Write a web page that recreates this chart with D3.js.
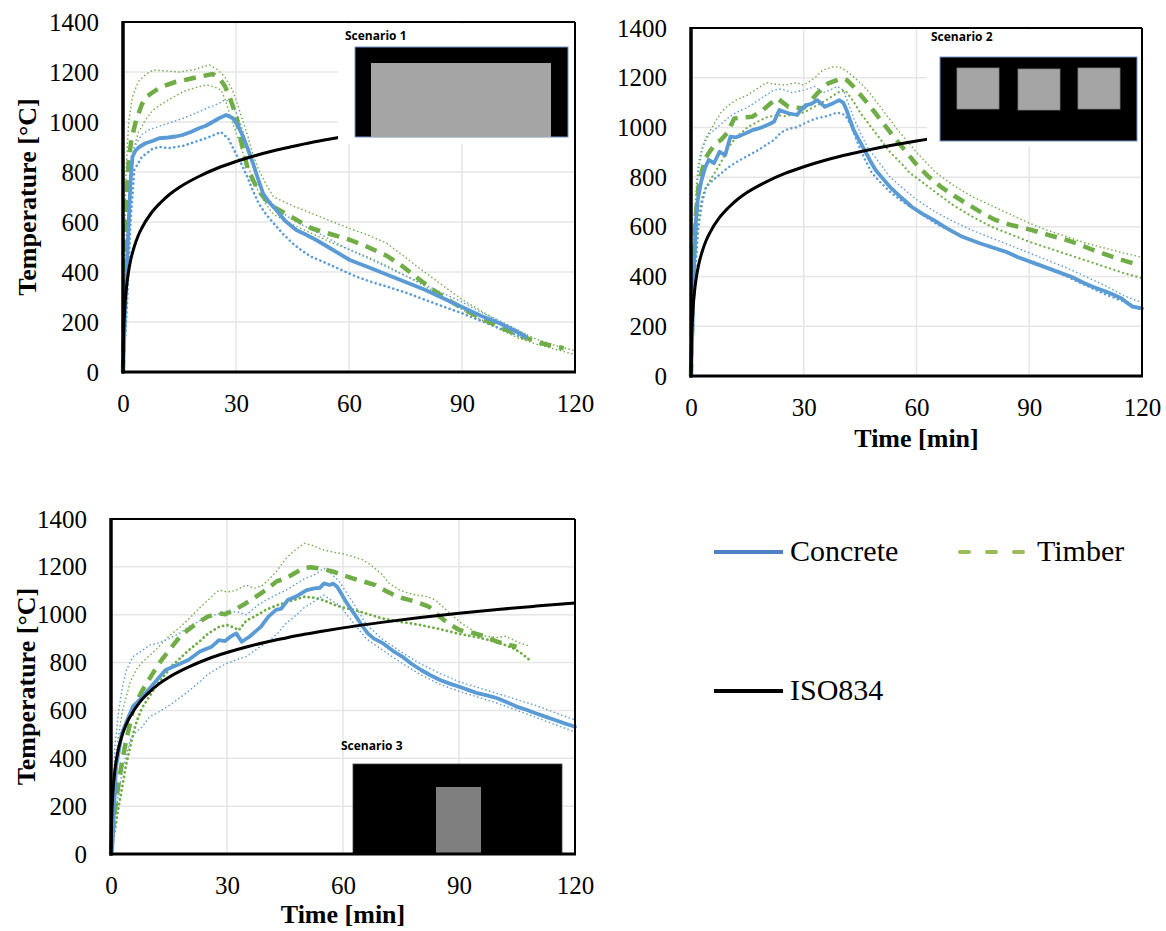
<!DOCTYPE html>
<html lang="en">
<head>
    <meta charset="UTF-8">
    <title>Fire scenarios - temperature vs time</title>
    <script src="https://d3js.org/d3.v7.min.js"></script>
    <style>
        body { margin: 0; background: #fff; }
        svg text { font-family: "Liberation Serif", "Times New Roman", serif; fill: #000; }
    </style>
</head>
<body>
    <div id="chart"></div>
    <script>
        // ticks
        var yTicks = [0, 200, 400, 600, 800, 1000, 1200, 1400];
        var xTicks = [0, 30, 60, 90, 120];

        // ISO834 standard curve [min, degC]
        var iso834 = [[0,20],[0.1,108],[0.25,185],[0.5,261],[1,349],[1.5,404],[2,445],[3,502],[4,544],[5,576],
            [7.5,636],[10,678],[12.5,712],[15,739],[20,781],[25,815],[30,842],[35,865],[40,885],[45,902],
            [50,918],[55,932],[60,945],[70,968],[80,988],[90,1006],[100,1022],[110,1036],[120,1049]];

        // Scenario 1
        var s1ConcMean = [[0,0],[0.7,300],[1.4,560],[2,760],[2.5,860],[3.3,885],[4.3,900],[6,915],[8,925],[9.6,935],
            [12,938],[14,942],[15.8,948],[18,960],[20.2,975],[22,985],[23.9,1001],[25.5,1015],[27.4,1028],[29.2,1015],
            [30.5,985],[31.9,941],[33.2,890],[34.5,835],[35.8,775],[37.2,714],[39,675],[40.7,648],[43,605],[46,568],
            [48.5,550],[51.3,528],[55,495],[60.2,448],[65,420],[70,390],[75,360],[80,330],[85,295],[90,260],
            [95,225],[100,195],[104,165],[107,140]];
        var s1ConcHigh = [[0,0],[0.6,300],[1.2,600],[2,820],[3,900],[5,950],[7,970],[10,985],[13,1000],[16,1015],
            [20,1040],[23,1060],[25.5,1075],[27,1088],[28.5,1080],[30,1040],[31.5,980],[33,900],[34.5,820],[36,750],
            [38,700],[40,670],[43,630],[46,600],[50,570],[55,530],[60,490],[65,455],[70,420],[75,385],[80,350],
            [85,315],[90,280],[95,240],[100,205],[104,175],[107,150]];
        var s1ConcLow = [[0,0],[1,250],[2,600],[3,808],[5,860],[8,895],[10,900],[12,895],[14,900],[16,905],[18,915],
            [20,925],[22,935],[24,947],[26,960],[28,932],[30,873],[31.5,830],[33,781],[34.5,725],[36,675],[38,630],
            [40,595],[42.5,552],[45,515],[47.5,485],[50,461],[54,435],[58,408],[62,381],[66,360],[70,342],[75,318],
            [80,290],[85,262],[90,235],[95,205],[100,175],[104,150],[107,130]];
        var s1TimbMean = [[0,0],[0.4,350],[0.9,688],[1.5,840],[2.2,928],[3.5,1008],[5,1070],[6.2,1101],[8.8,1128],
            [11,1145],[14.1,1161],[17,1170],[20.2,1181],[23.8,1192],[25.6,1176],[27,1145],[28.3,1101],[30.1,1021],
            [31,950],[31.9,888],[33,820],[34.5,768],[36,725],[38,688],[40,660],[45,618],[50,575],[55,552],[60,530],
            [65,500],[70,465],[74,425],[78,378],[82,332],[86,292],[90,255],[95,215],[100,180],[105,148],[110,120],
            [113,108],[117,95]];
        var s1TimbHigh = [[0,0],[0.3,400],[0.8,800],[1.5,1000],[2.5,1100],[4,1160],[6,1190],[8,1208],[11,1205],
            [15,1200],[19,1210],[21,1220],[23,1228],[25,1210],[27,1181],[29,1130],[30,1088],[31.5,1020],[33,950],
            [34.5,870],[36,810],[38,750],[40,700],[45,665],[50,635],[55,605],[60,575],[65,548],[70,515],[75,458],
            [80,400],[85,345],[90,290],[95,245],[100,200],[105,165],[110,130],[115,105],[120,85]];
        var s1TimbLow = [[0,0],[0.5,300],[1,550],[2,800],[3,900],[4,955],[6,1010],[8,1048],[10,1070],[12,1088],
            [14,1105],[17,1128],[20,1140],[22,1148],[24,1142],[26,1128],[27,1095],[28,1048],[29,1000],[30,960],
            [31.5,890],[33,830],[34.5,775],[36,720],[38,670],[40,630],[45,590],[50,555],[55,520],[60,490],[65,460],
            [70,425],[75,385],[80,345],[85,298],[90,250],[95,210],[100,170],[105,135],[110,110],[115,90],[120,70]];

        // Scenario 2
        var s2ConcMean = [[0,0],[0.3,150],[0.8,450],[1.3,620],[1.8,708],[2.8,788],[3.8,840],[4.7,869],[6.1,856],
            [7.6,902],[9.1,889],[10.5,963],[12,960],[13.4,969],[15,980],[16.3,989],[17.8,995],[19.2,1003],[20.6,1012],
            [22.1,1023],[23.5,1070],[25.9,1057],[28.2,1050],[29.5,1075],[30.7,1090],[32,1095],[33.6,1110],[35.6,1083],
            [37.5,1095],[39.4,1110],[40.5,1100],[41.4,1070],[42.3,1030],[43.3,989],[44.7,950],[46.2,909],[47.6,868],
            [49.1,829],[51,795],[52.9,761],[55.8,720],[58.7,681],[61.6,652],[64.5,628],[68,595],[72.2,560],[77,533],
            [83.8,500],[87,478],[91.5,453],[96,428],[101.2,399],[104,378],[106.9,359],[110,342],[112,330],[114.6,312],
            [116,295],[117.5,279],[120,272]];
        var s2ConcHigh = [[0,0],[0.5,350],[1,600],[2,830],[3,910],[4,950],[5,975],[7,1000],[10,1040],[12,1060],
            [15,1080],[18,1110],[20,1130],[22,1150],[24,1155],[27,1140],[30,1150],[33,1165],[35,1140],[37,1150],
            [39,1165],[40.5,1150],[42,1090],[43.5,1030],[45,980],[47,920],[50,860],[53,800],[56,760],[60,710],
            [65,660],[70,620],[75,585],[80,555],[85,525],[90,495],[95,465],[100,435],[105,400],[110,365],[115,325],
            [120,295]];
        var s2ConcLow = [[0,0],[0.5,150],[1,400],[2,600],[3,700],[4,760],[6,790],[8,815],[10,840],[12,860],[15,885],
            [18,910],[20,930],[22,949],[24,980],[26,995],[28,1000],[30,1015],[33,1035],[36,1045],[39,1060],[41,1050],
            [42.5,1010],[44,950],[46,880],[48,820],[50,785],[53,740],[56,705],[60,665],[65,615],[70,575],[75,545],
            [80,515],[85,490],[90,460],[95,432],[100,400],[105,365],[110,330],[115,300],[120,265]];
        var s2TimbMean = [[0,0],[0.3,200],[0.8,480],[1.3,650],[2,760],[3,830],[4,880],[5.3,910],[6.7,937],[8,950],
            [9.6,977],[11.5,1036],[14,1040],[16.3,1043],[19.2,1070],[21,1095],[23,1117],[25.9,1083],[29.8,1077],
            [31.5,1100],[33.6,1137],[36.5,1177],[40,1197],[41.5,1190],[43.3,1163],[46,1115],[49.1,1057],[51.5,1010],
            [53.9,963],[56.8,910],[59.7,856],[63,805],[66.4,762],[70,725],[73.2,695],[77,660],[80.9,628],[85,608],
            [90.5,588],[95,568],[100.1,547],[104,525],[107,507],[112,480],[117.5,454]];
        var s2TimbHigh = [[0,0],[0.3,300],[0.8,600],[1.5,780],[2,860],[3,920],[4,960],[6,1010],[8,1060],[10,1090],
            [12,1110],[15,1130],[18,1160],[20,1180],[22,1175],[25,1170],[28,1180],[30,1170],[33,1200],[35,1230],
            [38,1245],[40,1240],[42,1220],[45,1180],[47.5,1140],[50,1090],[52.5,1040],[55,990],[57.5,945],[60,900],
            [62.5,860],[65,820],[70,765],[75,720],[80,685],[85,650],[90,615],[95,585],[100,560],[105,535],[110,515],
            [115,495],[120,478]];
        var s2TimbLow = [[0,0],[0.5,200],[1,400],[2,650],[3,720],[4,760],[6,810],[8,860],[10,920],[12,960],[15,1000],
            [18,1025],[20,1040],[23,1050],[25,1045],[28,1055],[30,1060],[33,1085],[36,1110],[39,1140],[41,1150],
            [43,1110],[45,1060],[48,1000],[50,960],[53,900],[56,855],[58,820],[62,775],[65,740],[70,685],[75,640],
            [80,600],[85,570],[90,540],[95,515],[100,490],[105,465],[110,440],[115,415],[120,393]];

        // Scenario 3
        var s3ConcMean = [[0,0],[0.3,17],[1.3,365],[2.8,504],[4.2,560],[5.7,616],[8.2,657],[11.1,713],[14.1,769],
            [17.1,790],[20,811],[23,846],[26,866],[27.9,894],[29.5,890],[30.9,908],[32.4,922],[33.8,887],[35.8,908],
            [38.8,950],[40.7,992],[42.7,1020],[44,1025],[45.7,1061],[47.7,1075],[50.6,1103],[52.6,1110],[54,1112],
            [55.1,1131],[56.5,1124],[57.5,1130],[58.5,1117],[59.5,1090],[60.5,1061],[62,1025],[63.4,992],[64.9,955],
            [66.4,922],[68,900],[70.4,880],[72.8,850],[75.3,825],[77.7,795],[80.2,769],[82.6,747],[85.1,727],
            [87.6,712],[90.1,699],[92.5,685],[95,671],[97.5,662],[99.9,651],[102.4,634],[104.9,616],[107.4,603],
            [109.8,588],[112.3,574],[114.8,560],[117.3,546],[120,532]];
        var s3ConcHigh = [[0,0],[0.5,200],[1,450],[2,600],[3,700],[4,770],[5.7,825],[8,850],[10,873],[12,880],
            [15,900],[18,925],[20,950],[23,975],[25,990],[28,1005],[30,1015],[33,1010],[35,1000],[38,1040],[40,1060],
            [43,1085],[45,1100],[48,1130],[50,1150],[53,1170],[55,1194],[57,1170],[59,1140],[61,1090],[63,1040],
            [66,960],[70,900],[75,845],[80,795],[85,755],[90,720],[95,695],[100,670],[105,645],[110,620],[115,590],
            [120,560]];
        var s3ConcLow = [[0,0],[0.5,60],[1,150],[2,260],[3,350],[4,420],[5,476],[6.5,510],[8,530],[10,574],[12,590],
            [15,620],[18,655],[20,680],[23,720],[25,750],[28,780],[30,797],[33,815],[35,825],[38,860],[40,880],
            [43,920],[45,960],[48,1000],[50,1030],[53,1060],[55,1082],[57,1060],[59,1040],[61,1000],[63,960],[66,900],
            [70,855],[75,800],[80,750],[85,710],[90,680],[95,655],[100,630],[105,600],[110,570],[115,540],[120,510]];
        var s3TimbMean = [[0,0],[0.5,100],[1,180],[2,300],[3,400],[4,480],[5,550],[5.7,609],[7,650],[8,680],
            [9.5,720],[11,760],[13.1,811],[15,850],[17.1,894],[19,925],[21,950],[23,972],[25,992],[27.9,1006],
            [29.5,1002],[31.9,1020],[34.8,1047],[36.8,1068],[38.8,1089],[40.7,1112],[42.7,1138],[44.7,1150],
            [46.7,1166],[48.2,1180],[49.6,1194],[51.6,1198],[53.6,1194],[55.5,1188],[57.5,1180],[60,1165],[62.5,1152],
            [65.5,1138],[68.4,1124],[71,1100],[73.3,1082],[75.3,1070],[77.3,1061],[79.8,1048],[82.2,1034],[84.1,1005],
            [86.1,978],[88.1,955],[90.1,936],[92,928],[94,922],[97,908],[99.9,887],[102.4,876],[104.9,866]];
        var s3TimbHigh = [[0,0],[0.5,250],[1,380],[2,500],[3,600],[4,660],[5,720],[6.5,770],[8,800],[10,830],
            [12,860],[15,910],[18,950],[20,980],[23,1030],[25,1060],[27,1090],[28,1103],[30,1095],[32,1100],[35,1124],
            [37,1110],[39,1120],[41,1150],[43,1185],[45,1230],[46.5,1255],[48,1275],[50,1298],[52,1290],[55,1270],
            [58,1260],[60,1255],[63,1240],[65,1230],[67,1210],[70,1170],[72,1130],[75,1100],[78,1085],[80,1080],
            [82,1075],[84,1060],[86,1030],[88,1000],[91,960],[94,930],[97,910],[100,905],[102,910],[104,895],
            [106,880],[108,870]];
        var s3TimbLow = [[0,0],[0.5,50],[1,100],[2,200],[3,290],[4,380],[5,450],[6,520],[7,570],[8,610],[10,660],
            [11.5,700],[13,730],[16,790],[18,820],[20,850],[23,890],[25,920],[28,950],[30,957],[32,945],[33,935],
            [35,975],[38,1000],[40,1020],[43,1040],[45,1050],[48,1065],[50,1075],[53,1070],[55,1060],[58,1040],
            [60,1030],[63,1020],[65,1010],[68,995],[70,985],[75,970],[80,957],[85,940],[90,920],[95,905],[100,885],
            [104,860],[106,840],[108.8,804]];

        var blue = '#5b9bd5';
        var green = '#70ad47';

        var svg = d3.select('#chart')
            .append('svg')
            .attr('width', 1166)
            .attr('height', 931);

        function drawPanel(p) {
            var x = d3.scaleLinear().domain([0, 120]).range([p.left, p.right]);
            var y = d3.scaleLinear().domain([0, 1400]).range([p.bottom, p.top]);
            var g = svg.append('g');

            // gridlines
            g.selectAll('.gy').data(yTicks.slice(1)).enter().append('line')
                .attr('x1', p.left).attr('x2', p.right)
                .attr('y1', function(d) { return y(d); }).attr('y2', function(d) { return y(d); })
                .attr('stroke', '#e6e6e6').attr('stroke-width', 1.5);
            g.selectAll('.gx').data(xTicks.slice(1)).enter().append('line')
                .attr('y1', p.top).attr('y2', p.bottom)
                .attr('x1', function(d) { return x(d); }).attr('x2', function(d) { return x(d); })
                .attr('stroke', '#e6e6e6').attr('stroke-width', 1.5);

            var line = d3.line()
                .x(function(d) { return x(d[0]); })
                .y(function(d) { return y(d[1]); });

            var lines = [
                { data: p.timbHigh, color: green, width: 1.4, dash: '1.5,2.5', cap: 'butt' },
                { data: p.timbLow, color: green, width: p.timbLowW, dash: p.timbLowW > 2 ? '0.1,4.5' : '1.5,2.5', cap: p.timbLowW > 2 ? 'round' : 'butt' },
                { data: p.concHigh, color: blue, width: 1.4, dash: '1.5,2.5', cap: 'butt' },
                { data: p.concLow, color: blue, width: p.concLowW, dash: p.concLowW > 2 ? '0.1,4.5' : '1.5,2.5', cap: p.concLowW > 2 ? 'round' : 'butt' },
                { data: p.timbMean, color: green, width: 4.5, dash: '12,8', cap: 'butt' },
                { data: p.concMean, color: blue, width: 3.8, dash: null, cap: 'round' },
                { data: iso834, color: '#000', width: 3, dash: null, cap: 'butt', curve: true }
            ];
            lines.forEach(function(l) {
                g.append('path')
                    .datum(l.data)
                    .attr('fill', 'none')
                    .attr('stroke', l.color)
                    .attr('stroke-width', l.width)
                    .attr('stroke-dasharray', l.dash)
                    .attr('stroke-linecap', l.cap)
                    .attr('stroke-linejoin', 'round')
                    .attr('d', l.curve ? line.curve(d3.curveMonotoneX)(l.data) : line.curve(d3.curveLinear)(l.data));
            });

            p.inset(g);

            // axes
            var ay = g.append('g')
                .attr('transform', 'translate(' + p.left + ',0)')
                .call(d3.axisLeft(y).tickValues(yTicks).tickFormat(d3.format('d')).tickSize(0).tickPadding(24));
            var ax = g.append('g')
                .attr('transform', 'translate(0,' + p.bottom + ')')
                .call(d3.axisBottom(x).tickValues(xTicks).tickFormat(d3.format('d')).tickSize(0).tickPadding(22));
            [ay, ax].forEach(function(a) {
                a.select('.domain').remove();
                a.selectAll('text')
                    .style('font-family', '"Liberation Serif", serif')
                    .style('font-size', '25px')
                    .attr('fill', '#000');
            });

            // frame
            g.append('line').attr('x1', p.left).attr('x2', p.right).attr('y1', p.top).attr('y2', p.top)
                .attr('stroke', '#000').attr('stroke-width', 2);
            g.append('line').attr('x1', p.right).attr('x2', p.right).attr('y1', p.top).attr('y2', p.bottom)
                .attr('stroke', '#000').attr('stroke-width', 2);
            g.append('line').attr('x1', p.left).attr('x2', p.left).attr('y1', p.top - 1).attr('y2', p.bottom + 1.5)
                .attr('stroke', '#000').attr('stroke-width', 3.5);
            g.append('line').attr('x1', p.left - 1.5).attr('x2', p.right + 1).attr('y1', p.bottom).attr('y2', p.bottom)
                .attr('stroke', '#000').attr('stroke-width', 3);

            if (p.yTitle) {
                g.append('text')
                    .attr('transform', 'translate(' + p.yTitle + ',' + ((p.top + p.bottom) / 2) + ') rotate(-90)')
                    .attr('text-anchor', 'middle')
                    .style('font-size', '26px')
                    .style('font-weight', 'bold')
                    .text('Temperature [°C]');
            }
            if (p.xTitle) {
                g.append('text')
                    .attr('x', (p.left + p.right) / 2)
                    .attr('y', p.xTitle)
                    .attr('text-anchor', 'middle')
                    .style('font-size', '26px')
                    .style('font-weight', 'bold')
                    .text('Time [min]');
            }
        }

        function scenarioLabel(g, txt, x, y) {
            g.append('text')
                .attr('x', x).attr('y', y)
                .style('font-family', '"Open Sans", "Liberation Sans", sans-serif')
                .style('font-size', '12px')
                .style('font-weight', 'bold')
                .attr('fill', '#222')
                .text(txt);
        }

        drawPanel({
            left: 123, right: 575, top: 22, bottom: 372, yTitle: 36, xTitle: null,
            concMean: s1ConcMean, concHigh: s1ConcHigh, concLow: s1ConcLow, concLowW: 2.6,
            timbMean: s1TimbMean, timbHigh: s1TimbHigh, timbLow: s1TimbLow, timbLowW: 1.4,
            inset: function(g) {
                g.append('rect').attr('x', 338).attr('y', 24).attr('width', 236).attr('height', 120).attr('fill', '#fff');
                scenarioLabel(g, 'Scenario 1', 345, 40);
                g.append('rect').attr('x', 355).attr('y', 47).attr('width', 213).attr('height', 90)
                    .attr('fill', '#000').attr('stroke', '#6f95c4').attr('stroke-width', 1);
                g.append('rect').attr('x', 371).attr('y', 63).attr('width', 180).attr('height', 74)
                    .attr('fill', '#a5a5a5');
            }
        });

        drawPanel({
            left: 691, right: 1142, top: 28, bottom: 376, yTitle: null, xTitle: 447,
            concMean: s2ConcMean, concHigh: s2ConcHigh, concLow: s2ConcLow, concLowW: 2.4,
            timbMean: s2TimbMean, timbHigh: s2TimbHigh, timbLow: s2TimbLow, timbLowW: 2.2,
            inset: function(g) {
                g.append('rect').attr('x', 927).attr('y', 30).attr('width', 214).attr('height', 117).attr('fill', '#fff');
                scenarioLabel(g, 'Scenario 2', 931, 41);
                g.append('rect').attr('x', 940).attr('y', 57).attr('width', 197).attr('height', 84)
                    .attr('fill', '#000').attr('stroke', '#6f95c4').attr('stroke-width', 1);
                [[957, 68], [1018, 69], [1078, 68]].forEach(function(s) {
                    g.append('rect').attr('x', s[0]).attr('y', s[1]).attr('width', 42).attr('height', 41)
                        .attr('fill', '#a5a5a5').attr('stroke', '#7f7f7f').attr('stroke-width', 0.8);
                });
            }
        });

        drawPanel({
            left: 111, right: 575, top: 519, bottom: 854, yTitle: 35, xTitle: 923,
            concMean: s3ConcMean, concHigh: s3ConcHigh, concLow: s3ConcLow, concLowW: 1.4,
            timbMean: s3TimbMean, timbHigh: s3TimbHigh, timbLow: s3TimbLow, timbLowW: 2.8,
            inset: function(g) {
                scenarioLabel(g, 'Scenario 3', 341, 750);
                g.append('rect').attr('x', 353).attr('y', 764).attr('width', 209).attr('height', 90)
                    .attr('fill', '#000').attr('stroke', '#444').attr('stroke-width', 0.8);
                g.append('rect').attr('x', 436).attr('y', 787).attr('width', 45).attr('height', 67)
                    .attr('fill', '#7f7f7f');
            }
        });

        // legend
        var legend = svg.append('g');
        legend.append('line').attr('x1', 714).attr('x2', 783).attr('y1', 552).attr('y2', 552)
            .attr('stroke', '#4f81c4').attr('stroke-width', 4);
        legend.append('text').attr('x', 790).attr('y', 561).style('font-size', '30px').text('Concrete');
        legend.append('line').attr('x1', 960).attr('x2', 1028).attr('y1', 552).attr('y2', 552)
            .attr('stroke', '#9bbb59').attr('stroke-width', 4)
            .attr('stroke-dasharray', '9,18').attr('stroke-linecap', 'round');
        legend.append('text').attr('x', 1037).attr('y', 561).style('font-size', '30px').text('Timber');
        legend.append('line').attr('x1', 714).attr('x2', 783).attr('y1', 691).attr('y2', 691)
            .attr('stroke', '#000').attr('stroke-width', 4);
        legend.append('text').attr('x', 790).attr('y', 700).style('font-size', '30px').text('ISO834');
    </script>
</body>
</html>
